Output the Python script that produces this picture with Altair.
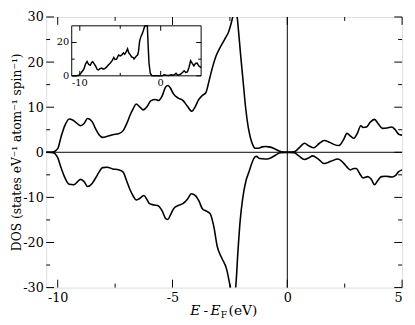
import altair as alt
import pandas as pd

# ---------------- data ----------------
up_e = [-10.5, -10.2, -10.0, -9.85, -9.7, -9.5, -9.3, -9.0, -8.85, -8.7, -8.5, -8.35, -8.2, -8.05,
        -7.8, -7.6, -7.35, -7.15, -7.0, -6.85, -6.7, -6.58, -6.45, -6.28, -6.1, -5.95, -5.75, -5.6,
        -5.45, -5.3, -5.2, -5.1, -4.95, -4.75, -4.55, -4.35, -4.16, -4.0, -3.88, -3.7, -3.55, -3.4,
        -3.25, -3.1, -2.9, -2.7, -2.55, -2.45, -2.35, -2.28, -2.2, -2.1, -2.03, -1.92, -1.82, -1.7,
        -1.6, -1.5, -1.4, -1.25, -1.1, -0.95, -0.8, -0.6, -0.4, -0.25, 0.0, 0.3, 0.5, 0.75, 0.95,
        1.15, 1.4, 1.6, 1.85, 2.05, 2.25, 2.45, 2.6, 2.75, 2.9, 3.05, 3.2, 3.3, 3.45, 3.6, 3.8, 3.95,
        4.15, 4.35, 4.55, 4.7, 4.85, 5.0]
up_dos = [0.0, 0.05, 0.8, 3.5, 5.8, 7.4, 7.0, 5.9, 6.4, 7.5, 6.8, 5.2, 3.9, 3.3,
          3.6, 3.9, 4.1, 4.8, 6.3, 8.2, 9.8, 10.7, 10.2, 9.4, 10.2, 11.4, 11.7, 11.5,
          12.5, 14.5, 14.8, 14.3, 12.9, 12.0, 11.5, 10.2, 9.1, 10.2, 11.5, 12.6, 13.2, 16.0,
          19.0, 21.4, 23.5, 25.3, 26.8, 28.5, 30.5, 31.5, 30.5, 25.5, 21.4, 15.5, 10.1, 5.5,
          3.1, 1.6, 0.9, 0.9, 1.2, 1.3, 1.2, 0.9, 0.4, 0.1, 0.05, 0.1, 0.9, 2.0, 1.4,
          1.0, 2.0, 2.6, 2.2, 1.7, 1.5, 2.8, 4.2, 3.6, 3.1, 4.2, 5.9, 5.5, 5.6, 6.6, 7.3, 6.4,
          5.3, 5.4, 5.6, 5.0, 4.0, 3.8]

dn_e = [-10.5, -10.2, -10.0, -9.85, -9.7, -9.5, -9.3, -9.0, -8.85, -8.7, -8.5, -8.35, -8.2, -8.05,
        -7.85, -7.6, -7.35, -7.15, -7.0, -6.85, -6.7, -6.58, -6.45, -6.25, -6.1, -6.0, -5.8, -5.65,
        -5.45, -5.3, -5.2, -5.1, -4.95, -4.75, -4.55, -4.35, -4.18, -4.0, -3.85, -3.7, -3.5, -3.35,
        -3.2, -3.05, -2.85, -2.65, -2.45, -2.35, -2.25, -2.15, -2.05, -1.95, -1.8, -1.68, -1.55,
        -1.45, -1.35, -1.2, -0.97, -0.75, -0.5, -0.3, 0.0, 0.3, 0.5, 0.75, 0.95, 1.1, 1.35, 1.6,
        1.9, 2.2, 2.45, 2.6, 2.75, 2.9, 3.0, 3.15, 3.3, 3.5, 3.65, 3.8, 3.95, 4.1, 4.3, 4.55, 4.7,
        4.85, 5.0]
dn_dos = [0.0, -0.1, -1.2, -3.5, -5.5, -7.1, -7.2, -6.0, -6.5, -7.6, -6.9, -5.7, -4.4, -3.4,
          -3.3, -3.7, -3.9, -4.4, -6.3, -8.3, -9.8, -10.6, -10.3, -9.6, -10.6, -11.4, -11.7, -11.8,
          -13.0, -14.7, -14.9, -14.0, -12.5, -11.8, -11.4, -10.4, -9.2, -9.6, -10.8, -12.5, -13.1, -13.7,
          -16.5, -20.9, -23.5, -25.8, -30.5, -32.0, -30.0, -22.0, -15.0, -10.5, -6.3, -4.5, -2.5,
          -1.3, -0.9, -1.4, -1.5, -1.3, -0.6, -0.1, -0.05, -0.1, -0.8, -1.6, -1.2, -0.8, -1.5, -2.5,
          -2.0, -1.5, -2.4, -3.3, -3.9, -3.6, -3.6, -4.7, -5.7, -5.4, -5.9, -7.2, -6.2, -5.4, -5.3, -5.5, -5.2,
          -4.3, -3.9]

in_e = [-11.0, -10.4, -10.1, -9.8, -9.5, -9.3, -9.1, -8.9, -8.7, -8.55, -8.4, -8.2, -8.0, -7.85,
        -7.7, -7.5, -7.3, -7.1, -6.9, -6.7, -6.5, -6.25, -6.0, -5.8, -5.65, -5.45, -5.2, -5.0,
        -4.8, -4.6, -4.45, -4.25, -4.1, -3.95, -3.8, -3.6, -3.4, -3.3, -3.15, -3.0, -2.85, -2.75,
        -2.6, -2.45, -2.3, -2.15, -2.05, -1.95, -1.8, -1.65, -1.55, -1.45, -1.3, -1.1, -0.9, 0.2,
        0.4, 0.7, 1.0, 1.3, 1.6, 1.9, 2.1, 2.4, 2.7, 2.9, 3.1, 3.3, 3.5, 3.7, 3.9, 4.1, 4.3, 4.5,
        4.7, 5.0]
in_dos = [0.0, 0.0, 0.3, 2.0, 4.0, 7.0, 8.6, 6.8, 6.3, 8.0, 8.4, 7.0, 5.4, 3.8,
          3.5, 4.3, 4.6, 4.0, 4.3, 5.2, 6.3, 7.6, 9.1, 11.0, 9.8, 10.0, 12.5, 12.0,
          12.6, 13.8, 12.9, 14.5, 16.2, 13.8, 12.9, 11.4, 11.0, 10.1, 11.0, 11.9, 12.5, 14.5,
          21.0, 23.5, 25.0, 27.0, 28.7, 31.0, 32.0, 30.0, 18.0, 8.0, 1.7, 0.1, 0.0, 0.0,
          0.6, 0.3, 0.2, 0.6, 0.3, 1.5, 0.4, 0.8, 2.0, 3.0, 2.0, 2.3, 5.0, 9.1, 7.5, 6.0, 7.4, 7.6,
          6.0, 4.9]

x_domain = [-10.5, 5]
y_domain = [-30, 30]
x_major = [-10, -5, 0, 5]
x_minor = [-7.5, -2.5, 2.5]
y_major = [-30, -20, -10, 0, 10, 20, 30]
y_minor = [-25, -15, -5, 5, 15, 25]

in_x_domain = [-11, 5]
in_y_domain = [0, 30]
in_x_major = [-10, 0]
in_x_minor = [-5]
in_y_major = [0, 20]
in_y_minor = [10]

# ---------------- layout ----------------
W, H = 363, 276
FONT = "DejaVu Serif"
IN_L, IN_R, IN_T, IN_B = 26, 158, 9, 60  # inset box in plot pixels

xs = alt.Scale(domain=x_domain, nice=False, zero=False)
ys = alt.Scale(domain=y_domain, nice=False, zero=False)
xaxis = alt.Axis(values=x_major, ticks=False, tickSize=0, domain=False, grid=False,
                 labelExpr="'' + datum.value", labelFont=FONT, labelFontSize=13,
                 labelColor="black", labelPadding=4)
yaxis = alt.Axis(values=y_major, ticks=False, tickSize=0, domain=False, grid=False,
                 labelExpr="'' + datum.value", labelFont=FONT, labelFontSize=13,
                 labelColor="black", labelPadding=3)


def X():
    return alt.X("e:Q", scale=xs, axis=xaxis, title=None)


def Y():
    return alt.Y("d:Q", scale=ys, axis=yaxis, title=None)


isx = alt.Scale(domain=in_x_domain, range=[IN_L, IN_R], nice=False, zero=False)
isy = alt.Scale(domain=in_y_domain, range=[IN_B, IN_T], nice=False, zero=False, clamp=True)


def IX():
    return alt.X("e:Q", scale=isx, axis=None, title=None)


def IY():
    return alt.Y("d:Q", scale=isy, axis=None, title=None)


up = alt.Chart(pd.DataFrame({"e": up_e, "d": up_dos})).mark_line(
    color="black", strokeWidth=1.6, interpolate="monotone", clip=True).encode(x=X(), y=Y())
down = alt.Chart(pd.DataFrame({"e": dn_e, "d": dn_dos})).mark_line(
    color="black", strokeWidth=1.6, interpolate="monotone", clip=True).encode(x=X(), y=Y())

zero_h = alt.Chart(pd.DataFrame({"d": [0]})).mark_rule(color="black", strokeWidth=1).encode(y=Y())
zero_v = alt.Chart(pd.DataFrame({"e": [0]})).mark_rule(color="black", strokeWidth=1).encode(x=X())


def xticks(vals, L):
    df = pd.DataFrame({"e": vals})
    b = alt.Chart(df).mark_rule(color="black", strokeWidth=1).encode(
        x=X(), y=alt.value(H), y2=alt.value(H - L))
    t = alt.Chart(df).mark_rule(color="black", strokeWidth=1).encode(
        x=X(), y=alt.value(0), y2=alt.value(L))
    return [b, t]


def yticks(vals, L):
    df = pd.DataFrame({"d": vals})
    l = alt.Chart(df).mark_rule(color="black", strokeWidth=1).encode(
        y=Y(), x=alt.value(0), x2=alt.value(L))
    r = alt.Chart(df).mark_rule(color="black", strokeWidth=1).encode(
        y=Y(), x=alt.value(W), x2=alt.value(W - L))
    return [l, r]


tick_layers = xticks(x_major, 8) + xticks(x_minor, 4) + yticks(y_major, 8) + yticks(y_minor, 4)

# axis titles
ytitle = alt.Chart(pd.DataFrame({"t": ["DOS (states eV\u207b\u00b9 atom\u207b\u00b9 spin\u207b\u00b9)"]})).mark_text(
    font=FONT, fontSize=12.5, angle=270, align="center", baseline="middle", color="black"
).encode(x=alt.value(-30), y=alt.value(138), text="t:N")


def txt(s, x, y, size=14, italic=False):
    return alt.Chart(pd.DataFrame({"t": [s]})).mark_text(
        font=FONT, fontSize=size, fontStyle="italic" if italic else "normal",
        align="left", baseline="alphabetic", color="black"
    ).encode(x=alt.value(x), y=alt.value(y), text="t:N")


xtitle = [txt("E", 147, 304, italic=True), txt("-", 160.5, 304), txt("E", 167.5, 304, italic=True),
          txt("F", 178, 307, size=9.5), txt("(eV)", 186, 304)]

main = alt.layer(up, down, zero_h, zero_v, *tick_layers, ytitle, *xtitle)

# ---------------- inset ----------------
frame = alt.Chart(pd.DataFrame({"e": [in_x_domain[0]], "e2": [in_x_domain[1]],
                                "d": [in_y_domain[0]], "d2": [in_y_domain[1]]})).mark_rect(
    fill="white", stroke="black", strokeWidth=1).encode(x=IX(), x2="e2:Q", y=IY(), y2="d2:Q")

in_line = alt.Chart(pd.DataFrame({"e": in_e, "d": in_dos})).mark_line(
    color="black", strokeWidth=1.5).encode(x=IX(), y=IY())


def ixticks(vals, L):
    df = pd.DataFrame({"e": vals})
    return [alt.Chart(df).mark_rule(color="black", strokeWidth=1).encode(
                x=IX(), y=alt.value(IN_B), y2=alt.value(IN_B - L)),
            alt.Chart(df).mark_rule(color="black", strokeWidth=1).encode(
                x=IX(), y=alt.value(IN_T), y2=alt.value(IN_T + L))]


def iyticks(vals, L):
    df = pd.DataFrame({"d": vals})
    return [alt.Chart(df).mark_rule(color="black", strokeWidth=1).encode(
                y=IY(), x=alt.value(IN_L), x2=alt.value(IN_L + L)),
            alt.Chart(df).mark_rule(color="black", strokeWidth=1).encode(
                y=IY(), x=alt.value(IN_R), x2=alt.value(IN_R - L))]


in_ticks = ixticks(in_x_major, 5) + ixticks(in_x_minor, 3) + iyticks(in_y_major, 5) + iyticks(in_y_minor, 3)

in_xlab = alt.Chart(pd.DataFrame({"e": in_x_major, "t": [str(v) for v in in_x_major]})).mark_text(
    font=FONT, fontSize=10, align="center", baseline="top", color="black"
).encode(x=IX(), y=alt.value(IN_B + 2), text="t:N")
in_ylab = alt.Chart(pd.DataFrame({"d": in_y_major, "t": [str(v) for v in in_y_major]})).mark_text(
    font=FONT, fontSize=10, align="right", baseline="middle", color="black"
).encode(y=IY(), x=alt.value(IN_L - 2.5), text="t:N")

inset = alt.layer(frame, in_line, *in_ticks, in_xlab, in_ylab)

chart = alt.layer(main, inset).resolve_scale(x="independent", y="independent").properties(
    width=W, height=H,
    autosize=alt.AutoSizeParams(type="none"),
    padding={"left": 39, "top": 6, "right": 5, "bottom": 35},
).configure_view(stroke="black", strokeWidth=1).configure(background="white")

chart.save("out.html", embed_options={"renderer": "svg", "actions": False})
